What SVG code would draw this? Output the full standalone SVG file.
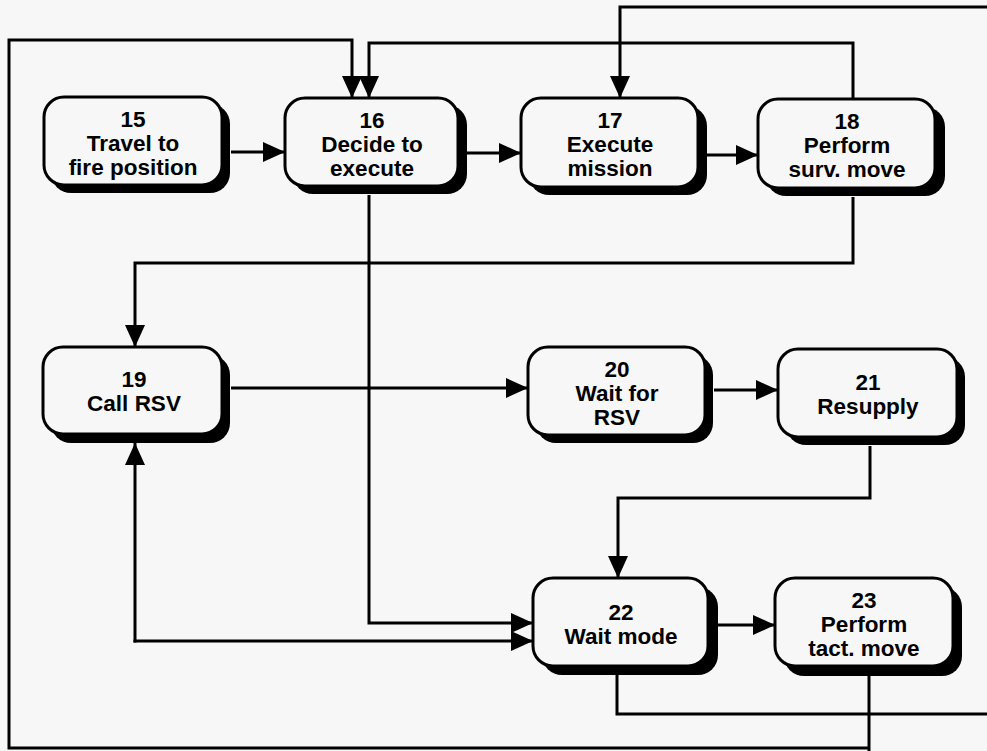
<svg xmlns="http://www.w3.org/2000/svg" width="987" height="751" viewBox="0 0 987 751">
  <style>
    .shadow { fill: #000; }
    .box { fill: #f7f7f7; stroke: #000; stroke-width: 3; }
    .lbl { font-family: "Liberation Sans", Arial, Helvetica, sans-serif; font-weight: bold; font-size: 22.5px; fill: #000; text-anchor: middle; }
    .wire { fill: none; stroke: #000; stroke-width: 3; stroke-linejoin: miter; stroke-linecap: butt; }
  </style>
  <defs>
    <marker id="arrow" viewBox="0 0 22 20" refX="22" refY="10" markerWidth="22" markerHeight="20" markerUnits="userSpaceOnUse" orient="auto">
      <path d="M0,0 L22,10 L0,20 z" fill="#000"/>
    </marker>
  </defs>

  <rect width="987" height="751" fill="#f7f7f7"/>

  <!-- connectors -->
  <g id="connectors">
    <!-- 15 -> 16 -->
    <path class="wire" d="M231,152 H285" marker-end="url(#arrow)"/>
    <!-- 16 -> 17 -->
    <path class="wire" d="M467,153 H521" marker-end="url(#arrow)"/>
    <!-- 17 -> 18 -->
    <path class="wire" d="M707,155 H758" marker-end="url(#arrow)"/>
    <!-- 18 back to 16 (over the top) -->
    <path class="wire" d="M853,99 V43 H369 V98" marker-end="url(#arrow)"/>
    <!-- 23 around the outside back to 16 -->
    <path class="wire" d="M869,676 V751"/>
    <path class="wire" d="M869,748 H9 V40 H352 V98" marker-end="url(#arrow)"/>
    <!-- 22 out to the right edge -->
    <path class="wire" d="M617,675 V714 H990"/>
    <!-- return along the top edge into 17 -->
    <path class="wire" d="M990,7 H620 V98" marker-end="url(#arrow)"/>
    <!-- 18 -> 19 -->
    <path class="wire" d="M853,197 V263 H135 V347" marker-end="url(#arrow)"/>
    <!-- 19 -> 20 -->
    <path class="wire" d="M231,388 H528" marker-end="url(#arrow)"/>
    <!-- 20 -> 21 -->
    <path class="wire" d="M714,390 H778" marker-end="url(#arrow)"/>
    <!-- 21 -> 22 -->
    <path class="wire" d="M870,446 V498 H618 V578" marker-end="url(#arrow)"/>
    <!-- 16 -> 22 -->
    <path class="wire" d="M369,195 V623 H533" marker-end="url(#arrow)"/>
    <!-- 19 <-> 22 -->
    <path class="wire" d="M133.5,641 H533" marker-end="url(#arrow)"/>
    <path class="wire" d="M135,642.5 V443" marker-end="url(#arrow)"/>
    <!-- 22 -> 23 -->
    <path class="wire" d="M718,625 H775" marker-end="url(#arrow)"/>
  </g>

  <!-- nodes -->
  <g id="n15">
    <rect class="shadow" x="51" y="104" width="179" height="89" rx="20"/>
    <rect class="box" x="44" y="97" width="178" height="88" rx="20"/>
    <text class="lbl" x="133" y="127">15</text>
    <text class="lbl" x="133" y="151">Travel to</text>
    <text class="lbl" x="133" y="175">fire position</text>
  </g>
  <g id="n16">
    <rect class="shadow" x="293" y="105" width="174" height="89" rx="20"/>
    <rect class="box" x="285" y="98" width="173" height="88" rx="20"/>
    <text class="lbl" x="372" y="128">16</text>
    <text class="lbl" x="372" y="152">Decide to</text>
    <text class="lbl" x="372" y="176">execute</text>
  </g>
  <g id="n17">
    <rect class="shadow" x="529" y="106" width="178" height="89" rx="20"/>
    <rect class="box" x="521" y="98" width="177" height="89" rx="20"/>
    <text class="lbl" x="610" y="128">17</text>
    <text class="lbl" x="610" y="152">Execute</text>
    <text class="lbl" x="610" y="176">mission</text>
  </g>
  <g id="n18">
    <rect class="shadow" x="766" y="107" width="179" height="89" rx="20"/>
    <rect class="box" x="758" y="99" width="177" height="89" rx="20"/>
    <text class="lbl" x="847" y="129">18</text>
    <text class="lbl" x="847" y="153">Perform</text>
    <text class="lbl" x="847" y="177">surv. move</text>
  </g>
  <g id="n19">
    <rect class="shadow" x="51" y="355" width="179" height="88" rx="20"/>
    <rect class="box" x="43" y="347" width="179" height="87" rx="20"/>
    <text class="lbl" x="134" y="387">19</text>
    <text class="lbl" x="134" y="411">Call RSV</text>
  </g>
  <g id="n20">
    <rect class="shadow" x="536" y="355" width="177" height="88" rx="20"/>
    <rect class="box" x="528" y="347" width="177" height="88" rx="20"/>
    <text class="lbl" x="617" y="377">20</text>
    <text class="lbl" x="617" y="401">Wait for</text>
    <text class="lbl" x="617" y="425">RSV</text>
  </g>
  <g id="n21">
    <rect class="shadow" x="786" y="357" width="179" height="88" rx="20"/>
    <rect class="box" x="778" y="349" width="179" height="88" rx="20"/>
    <text class="lbl" x="868" y="390">21</text>
    <text class="lbl" x="868" y="414">Resupply</text>
  </g>
  <g id="n22">
    <rect class="shadow" x="542" y="587" width="176" height="88" rx="20"/>
    <rect class="box" x="533" y="578" width="175" height="88" rx="20"/>
    <text class="lbl" x="621" y="620">22</text>
    <text class="lbl" x="621" y="644">Wait mode</text>
  </g>
  <g id="n23">
    <rect class="shadow" x="784" y="587" width="178" height="89" rx="20"/>
    <rect class="box" x="775" y="578" width="178" height="88" rx="20"/>
    <text class="lbl" x="864" y="608">23</text>
    <text class="lbl" x="864" y="632">Perform</text>
    <text class="lbl" x="864" y="656">tact. move</text>
  </g>
</svg>
